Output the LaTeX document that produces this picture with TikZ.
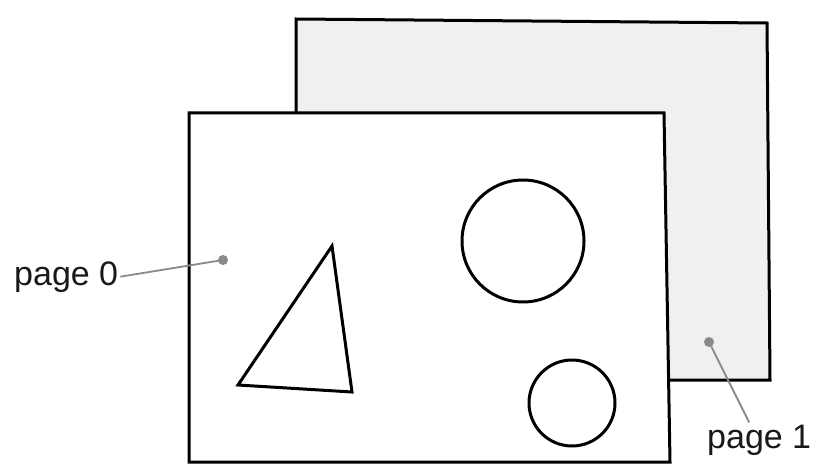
\documentclass[tikz,border=0pt]{standalone}
\usepackage{fontspec}
\setmainfont{Liberation Sans}
\usetikzlibrary{positioning}

\definecolor{backfill}{HTML}{F0F0F0}
\definecolor{leadgray}{HTML}{8A8A8A}

\tikzset{
    pageframe/.style={line width=3pt, draw=black},
    shapeline/.style={line width=3pt, draw=black},
    leader/.style={line width=1.8pt, draw=leadgray},
    pagelabel/.style={font=\fontsize{34}{38}\selectfont, text=black!90, inner sep=2pt}
}

\begin{document}
\begin{tikzpicture}[x=1pt, y=-1pt]
    \useasboundingbox (0,0) rectangle (814,468);

    % Draw the page behind, lightly shaded
    \draw[pageframe, fill=backfill] (296,19) -- (767,23) -- (770,380) -- (296,380) -- cycle;

    % Draw the front page on top of it
    \draw[pageframe, fill=white] (189,113) -- (664,113) -- (670,462) -- (189,462) -- cycle;

    % Add the triangle and the two circles
    \draw[shapeline] (238,385) -- (332,246) -- (352,392) -- cycle;
    \draw[shapeline] (523,241) circle (61);
    \draw[shapeline] (572,403) circle (43);

    % Points that the labels refer to
    \coordinate (dot0) at (223,260);
    \coordinate (dot1) at (709,342);
    \fill[leadgray] (dot0) circle (5);
    \fill[leadgray] (dot1) circle (5);

    % Labels with their leader lines
    \node[pagelabel, anchor=base west] (p0) at (12,285) {page 0};
    \node[pagelabel, anchor=base west] (p1) at (705,448) {page 1};
    \draw[leader] (p0.east) -- (dot0);
    \draw[leader] ([xshift=-10pt]p1.north) -- (dot1);
\end{tikzpicture}
\end{document}
